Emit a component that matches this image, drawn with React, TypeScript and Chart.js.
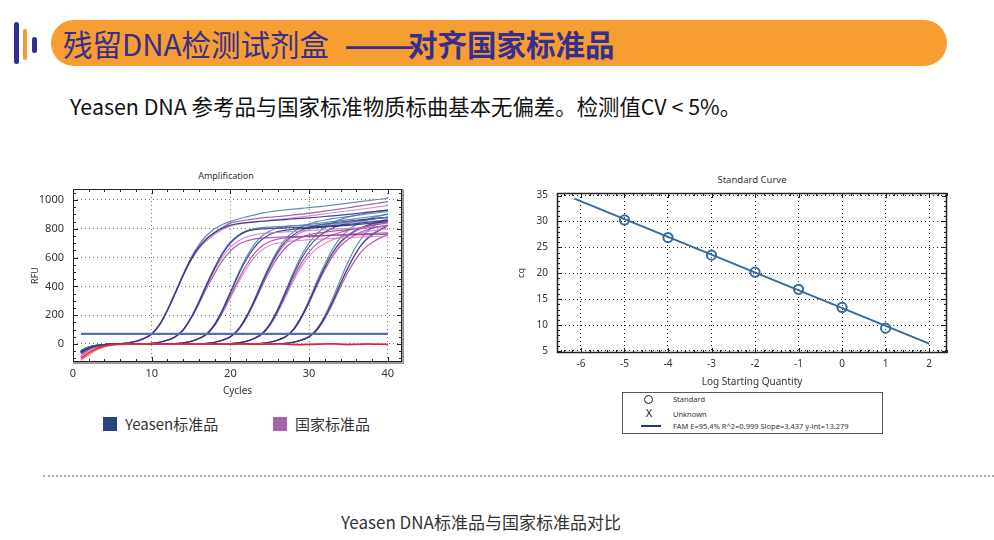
import React, { useEffect, useRef } from 'react';
import { Chart, registerables } from 'chart.js';

Chart.register(...registerables);

// ---------------- Amplification data (RFU per cycle) ----------------
const cycles = [1,2,3,4,5,6,7,8,9,10,11,12,13,14,15,16,17,18,19,20,21,22,23,24,25,26,27,28,29,30,31,32,33,34,35,36,37,38,39,40];
const ampXTicks = [0, 10, 20, 30, 40];
const ampYTicks = [0, 200, 400, 600, 800, 1000];
const thresholdRFU = 70;

// Yeasen standard (navy)
const yeasenD1a = [-55,-28,-12,-5,-1,2,7,17,37,68, 132,232,352,476,586,670,730,772,803,825, 836,843,848,852,856,860,864,868,872,876, 880,885,890,895,900,906,912,918,924,930];
const yeasenD2a = [-55,-28,-12,-5,-1,0,0,0,2,5, 12,27,50,98,182,290,412,525,625,700, 750,780,793,799,802,804,806,808,810,812, 815,818,822,826,831,836,842,848,854,860];
const yeasenD3a = [-55,-28,-12,-5,-1,0,0,0,0,0, 0,1,3,8,18,38,70,135,235,355, 478,585,668,725,760,780,790,796,800,804, 808,812,816,820,824,829,834,839,844,850];
const yeasenD4a = [-55,-28,-12,-5,-1,0,0,0,0,0, 0,0,0,0,0,2,5,12,27,50, 100,185,295,420,535,635,710,757,790,810, 823,832,840,847,853,859,865,870,875,880];
const yeasenD5a = [-55,-28,-12,-5,-1,0,0,0,0,0, 0,0,0,0,0,0,0,0,1,3, 8,18,38,70,135,235,355,480,590,675, 735,775,805,825,840,851,860,867,874,880];
const yeasenD6a = [-55,-28,-12,-5,-1,0,0,0,0,0, 0,0,0,0,0,0,0,0,0,0, 0,0,2,5,12,27,50,100,185,295, 420,535,635,710,757,792,816,834,848,860];
const yeasenD7a = [-55,-28,-12,-5,-1,0,0,0,0,0, 0,0,0,0,0,0,0,0,0,0, 0,0,0,0,0,2,5,12,27,50, 100,185,295,420,535,635,710,757,792,820];
// Yeasen standard (steel blue replicates)
const yeasenD1b = [-45,-22,-10,-4,0,3,8,18,38,70, 135,236,358,485,600,690,755,800,830,851, 868,882,895,908,918,925,931,936,941,947, 952,958,964,971,978,985,992,999,1005,1011];
const yeasenD2b = [-45,-22,-10,-4,-1,0,0,0,2,5, 12,28,52,100,186,296,420,535,635,708, 755,785,800,808,812,815,817,819,821,823, 826,830,835,841,847,853,859,866,873,880];
const yeasenD3b = [-45,-22,-10,-4,-1,0,0,0,0,0, 0,1,3,8,19,40,73,140,242,365, 490,600,688,750,785,805,815,821,826,831, 837,843,850,857,864,871,878,885,892,900];
const yeasenD4b = [-45,-22,-10,-4,-1,0,0,0,0,0, 0,0,0,0,0,2,5,12,28,52, 103,190,302,430,548,650,728,778,812,835, 850,861,870,878,885,892,899,906,913,920];
const yeasenD5b = [-45,-22,-10,-4,-1,0,0,0,0,0, 0,0,0,0,0,0,0,0,1,3, 8,19,40,73,140,243,368,497,612,702, 766,810,842,865,882,895,906,915,923,930];
const yeasenD6b = [-45,-22,-10,-4,-1,0,0,0,0,0, 0,0,0,0,0,0,0,0,0,0, 0,0,2,5,12,28,52,104,192,306, 436,555,660,740,792,830,857,876,890,902];
const yeasenD7b = [-45,-22,-10,-4,-1,0,0,0,0,0, 0,0,0,0,0,0,0,0,0,0, 0,0,0,0,0,2,5,13,29,54, 108,200,318,452,575,680,758,810,848,875];

// National standard (purple)
const nationalD1a = [-65,-35,-16,-6,-1,3,9,20,40,72, 138,240,360,482,592,676,735,775,810,839, 852,861,868,875,880,885,890,896,902,908, 915,922,930,938,946,955,963,971,980,989];
const nationalD2a = [-65,-35,-16,-6,-2,0,0,0,2,5, 12,26,48,95,175,278,390,490,580,645, 690,715,728,734,738,741,744,746,748,750, 752,754,755,756,757,758,759,760,760,761];
const nationalD3a = [-65,-35,-16,-6,-2,0,0,0,0,0, 0,1,3,8,18,37,68,130,225,335, 445,545,625,680,712,728,736,740,743,746, 749,752,755,758,761,763,765,767,769,771];
const nationalD4a = [-65,-35,-16,-6,-2,0,0,0,0,0, 0,0,0,0,0,2,5,12,26,48, 96,178,283,400,508,600,668,712,740,757, 768,776,783,789,795,800,805,810,815,820];
const nationalD5a = [-65,-35,-16,-6,-2,0,0,0,0,0, 0,0,0,0,0,0,0,0,1,3, 8,18,37,68,130,226,340,458,560,640, 695,732,758,776,790,802,813,823,832,840];
const nationalD6a = [-65,-35,-16,-6,-2,0,0,0,0,0, 0,0,0,0,0,0,0,0,0,0, 0,0,2,5,12,26,48,96,178,284, 404,515,610,682,728,762,786,803,816,826];
const nationalD7a = [-65,-35,-16,-6,-2,0,0,0,0,0, 0,0,0,0,0,0,0,0,0,0, 0,0,0,0,0,2,5,12,26,48, 95,176,280,398,505,595,662,705,735,757];
// National standard (light purple replicates)
const nationalD1b = [-85,-45,-20,-8,-2,3,8,19,39,71, 136,236,354,475,580,662,718,760,795,820, 832,840,846,852,858,864,870,876,883,890, 897,904,911,918,925,932,939,946,953,960];
const nationalD2b = [-85,-45,-20,-8,-2,0,0,1,3,6, 13,28,51,99,183,290,408,515,605,672, 715,742,758,766,771,775,778,781,784,787, 790,793,796,799,802,805,808,811,814,817];
const nationalD3b = [-85,-45,-20,-8,-2,0,0,0,0,0, 0,1,3,7,17,36,66,125,215,320, 425,520,598,652,685,700,710,716,720,724, 727,730,733,736,739,741,743,745,748,752];
const nationalD4b = [-85,-45,-20,-8,-2,0,0,0,0,0, 0,0,0,0,0,2,5,12,27,50, 99,184,292,414,526,622,695,742,775,796, 810,820,828,835,841,846,850,854,857,860];
const nationalD5b = [-85,-45,-20,-8,-2,0,0,0,0,0, 0,0,0,0,0,0,0,0,1,3, 8,17,36,66,126,218,326,438,535,610, 662,698,724,742,756,767,777,786,794,801];
const nationalD6b = [-85,-45,-20,-8,-2,0,0,0,0,0, 0,0,0,0,0,0,0,0,0,0, 0,0,2,5,12,27,50,99,183,292, 415,530,628,702,750,784,808,825,838,848];
const nationalD7b = [-85,-45,-20,-8,-2,0,0,0,0,0, 0,0,0,0,0,0,0,0,0,0, 0,0,0,0,0,2,5,12,27,51, 101,187,298,424,540,640,716,765,800,826];

// No-template controls (red)
const ntcA = [-100,-62,-32,-14,-5,-2,0,1,0,-1, 0,1,2,1,0,-1,0,1,0,-1, 1,0,-2,-1,0,1,-1,-3,-5,-4, -2,0,1,-1,-3,-2,0,-1,-2,-3];
const ntcB = [-112,-75,-40,-20,-9,-4,-1,0,1,0, -1,0,1,0,-1,0,1,2,1,0, -1,-2,0,1,2,0,-2,-4,-3,-1, 1,2,0,-2,-4,-3,-1,0,-2,-1];

const yeasenNavyRuns = [yeasenD1a, yeasenD2a, yeasenD3a, yeasenD4a, yeasenD5a, yeasenD6a, yeasenD7a];
const yeasenSteelRuns = [yeasenD1b, yeasenD2b, yeasenD3b, yeasenD4b, yeasenD5b, yeasenD6b, yeasenD7b];
const nationalPurpleRuns = [nationalD1a, nationalD2a, nationalD3a, nationalD4a, nationalD5a, nationalD6a, nationalD7a];
const nationalPinkRuns = [nationalD1b, nationalD2b, nationalD3b, nationalD4b, nationalD5b, nationalD6b, nationalD7b];
const ntcRuns = [ntcA, ntcB];

// ---------------- Standard curve data ----------------
const stdLogQty = [-5, -4, -3, -2, -1, 0, 1];
const stdCq = [30.3, 26.9, 23.5, 20.2, 16.9, 13.4, 9.4];
const fitSlope = -3.437;
const fitIntercept = 13.279;
const fitRangeX = [-6.15, 2.0];
const stdXTicks = [-6, -5, -4, -3, -2, -1, 0, 1, 2];
const stdYTicks = [5, 10, 15, 20, 25, 30, 35];

// ---------------- Styles ----------------
const CJK = '"Noto Sans CJK SC", "Noto Sans", sans-serif';
const SANS = '"Noto Sans", "DejaVu Sans", sans-serif';
const C_NAVY = 'rgba(38,48,128,0.88)';
const C_STEEL = 'rgba(72,122,165,0.85)';
const C_PURPLE = 'rgba(152,58,152,0.82)';
const C_PINK = 'rgba(200,122,200,0.82)';
const C_RED = '#e8202c';
const C_RED2 = 'rgba(242,110,120,0.85)';
const C_THRESH = '#5670a3';
const C_FIT = '#3a6a99';

const framePlugin = {
  id: 'frameTicks',
  afterDatasetsDraw(chart: any, _args: any, o: any) {
    const { ctx, chartArea: a, scales } = chart;
    const xs = scales.x;
    const ys = scales.y;
    ctx.save();
    ctx.strokeStyle = o.color;
    ctx.lineWidth = 1;
    ctx.setLineDash([]);
    ctx.beginPath();
    const rx = Math.round(o.xMajor / o.xMinor);
    for (let k = Math.ceil(o.xFrom / o.xMinor - 1e-9); k * o.xMinor <= o.xTo + 1e-9; k++) {
      const px = Math.round(xs.getPixelForValue(k * o.xMinor)) + 0.5;
      const len = k % rx === 0 ? o.majorLen : o.minorLen;
      ctx.moveTo(px, a.bottom);
      ctx.lineTo(px, a.bottom - len);
      ctx.moveTo(px, a.top);
      ctx.lineTo(px, a.top + len);
    }
    const ry = Math.round(o.yMajor / o.yMinor);
    for (let k = Math.ceil(o.yFrom / o.yMinor - 1e-9); k * o.yMinor <= o.yTo + 1e-9; k++) {
      const py = Math.round(ys.getPixelForValue(k * o.yMinor)) + 0.5;
      const len = k % ry === 0 ? o.majorLen : o.minorLen;
      ctx.moveTo(a.left, py);
      ctx.lineTo(a.left + len, py);
      ctx.moveTo(a.right, py);
      ctx.lineTo(a.right - len, py);
    }
    ctx.stroke();
    ctx.lineWidth = o.frameWidth;
    ctx.strokeRect(a.left + 0.5, a.top + 0.5, a.right - a.left - 1, a.bottom - a.top - 1);
    if (o.shadow) {
      ctx.strokeStyle = o.shadow;
      ctx.lineWidth = 2;
      ctx.beginPath();
      ctx.moveTo(a.right + 1, a.top);
      ctx.lineTo(a.right + 1, a.bottom + 1);
      ctx.lineTo(a.left, a.bottom + 1);
      ctx.stroke();
    }
    ctx.restore();
  },
};

function AmpChart() {
  const ref = useRef<HTMLCanvasElement>(null);
  useEffect(() => {
    const toPts = (vals: number[]) => vals.map((v, i) => ({ x: cycles[i], y: v }));
    const datasets: any[] = [];
    datasets.push({
      data: [{ x: cycles[0], y: thresholdRFU }, { x: cycles[cycles.length - 1], y: thresholdRFU }],
      borderColor: C_THRESH, borderWidth: 2.2, cubicInterpolationMode: 'default', tension: 0,
    });
    ntcRuns.forEach((r, i) => datasets.push({ data: toPts(r), borderColor: i === 0 ? C_RED : C_RED2, borderWidth: 1.5 }));
    for (let d = 0; d < yeasenNavyRuns.length; d++) {
      datasets.push({ data: toPts(yeasenNavyRuns[d]), borderColor: C_NAVY });
      datasets.push({ data: toPts(nationalPurpleRuns[d]), borderColor: C_PURPLE });
      datasets.push({ data: toPts(yeasenSteelRuns[d]), borderColor: C_STEEL });
      datasets.push({ data: toPts(nationalPinkRuns[d]), borderColor: C_PINK });
    }
    const tickFont = { family: SANS, size: 11 };
    const chart = new Chart(ref.current!, {
      type: 'line',
      data: { datasets },
      options: {
        responsive: false,
        animation: false,
        devicePixelRatio: 1,
        events: [],
        layout: { padding: { top: 19, right: 8, left: 0, bottom: 0 } },
        elements: { point: { radius: 0 }, line: { borderWidth: 1.2, cubicInterpolationMode: 'monotone' } },
        plugins: {
          legend: { display: false },
          tooltip: { enabled: false },
          frameTicks: { color: '#222', xFrom: 0, xTo: 40, xMinor: 2, xMajor: 10, yFrom: -100, yTo: 1050, yMinor: 50, yMajor: 200, majorLen: 5, minorLen: 3, frameWidth: 1, shadow: '#9a9a9a' },
        } as any,
        scales: {
          x: {
            type: 'linear', min: 0, max: 41.8,
            afterBuildTicks: (s: any) => { s.ticks = ampXTicks.map((v) => ({ value: v })); },
            afterFit: (s: any) => { s.height = 40; },
            grid: { color: '#777', lineWidth: 1, drawTicks: false },
            border: { display: false, dash: [1, 3] },
            ticks: { padding: 5, font: tickFont, color: '#333', maxRotation: 0, callback: (v: any) => String(v) },
            title: { display: true, text: 'Cycles', font: { family: SANS, size: 10 }, color: '#333', padding: { top: 0, bottom: 5 } },
          },
          y: {
            type: 'linear', min: -125, max: 1076,
            afterBuildTicks: (s: any) => { s.ticks = ampYTicks.map((v) => ({ value: v })); },
            afterFit: (s: any) => { s.width = 53; },
            grid: { color: '#777', lineWidth: 1, drawTicks: false },
            border: { display: false, dash: [1, 3] },
            ticks: { padding: 9, font: tickFont, color: '#333', callback: (v: any) => String(v) },
            title: { display: true, text: 'RFU', font: { family: SANS, size: 9 }, color: '#333', padding: { top: 9.6, bottom: 0 } },
          },
        },
      } as any,
      plugins: [framePlugin as any],
    });
    return () => chart.destroy();
  }, []);
  return <canvas ref={ref} width={390} height={232} style={{ position: 'absolute', left: 20, top: 170, width: 390, height: 232 }} />;
}

function StdChart() {
  const ref = useRef<HTMLCanvasElement>(null);
  useEffect(() => {
    const tickFont = { family: SANS, size: 10 };
    const chart = new Chart(ref.current!, {
      type: 'scatter',
      data: {
        datasets: [
          {
            data: stdLogQty.map((x, i) => ({ x, y: stdCq[i] })),
            pointStyle: 'circle', pointRadius: 4.6, pointBorderWidth: 2,
            pointBorderColor: C_FIT, pointBackgroundColor: 'rgba(0,0,0,0)', showLine: false,
          },
          {
            data: fitRangeX.map((x) => ({ x, y: fitIntercept + fitSlope * x })),
            showLine: true, borderColor: C_FIT, borderWidth: 2, pointRadius: 0,
          },
        ],
      },
      options: {
        responsive: false,
        animation: false,
        devicePixelRatio: 1,
        events: [],
        layout: { padding: { top: 15, right: 13, left: 0, bottom: 0 } },
        plugins: {
          legend: { display: false },
          tooltip: { enabled: false },
          frameTicks: { color: '#222', xFrom: -6.4, xTo: 2.4, xMinor: 0.2, xMajor: 1, yFrom: 5, yTo: 35, yMinor: 1, yMajor: 5, majorLen: 5, minorLen: 3, frameWidth: 1.5, shadow: null },
        } as any,
        scales: {
          x: {
            type: 'linear', min: -6.55, max: 2.41,
            afterBuildTicks: (s: any) => { s.ticks = stdXTicks.map((v) => ({ value: v })); },
            afterFit: (s: any) => { s.height = 36; },
            grid: { color: '#222', lineWidth: 1, drawTicks: false },
            border: { display: false, dash: [1, 3] },
            ticks: { padding: 5, font: tickFont, color: '#333', maxRotation: 0, callback: (v: any) => String(v) },
            title: { display: true, text: 'Log Starting Quantity', font: { family: SANS, size: 10 }, color: '#333', padding: { top: 0, bottom: 1 } },
          },
          y: {
            type: 'linear', min: 4.6, max: 35.5,
            afterBuildTicks: (s: any) => { s.ticks = stdYTicks.map((v) => ({ value: v })); },
            afterFit: (s: any) => { s.width = 57; },
            grid: { color: '#222', lineWidth: 1, drawTicks: false },
            border: { display: false, dash: [1, 3] },
            ticks: { padding: 9, font: tickFont, color: '#333', callback: (v: any) => String(v) },
            title: { display: true, text: 'cq', font: { family: SANS, size: 9 }, color: '#333', padding: { top: 15.6, bottom: 0 } },
          },
        },
      } as any,
      plugins: [framePlugin as any],
    });
    return () => chart.destroy();
  }, []);
  return <canvas ref={ref} width={460} height={211} style={{ position: 'absolute', left: 500, top: 178, width: 460, height: 211 }} />;
}

const abs = (s: any) => ({ position: 'absolute' as const, ...s });

export default function App() {
  return (
    <div style={{ position: 'absolute', left: 0, top: 0, width: 994, height: 540, background: '#fff', overflow: 'hidden', fontFamily: CJK }}>
      {/* header decorations */}
      <div style={abs({ left: 14, top: 22, width: 5, height: 42, background: '#2f2e90', borderRadius: 3 })} />
      <div style={abs({ left: 22.5, top: 29, width: 4, height: 31, background: '#f39c2c', borderRadius: 2 })} />
      <div style={abs({ left: 31.5, top: 37, width: 5, height: 16, background: '#2f2e90', borderRadius: 3 })} />
      <div style={abs({ left: 51, top: 20, width: 896, height: 46, background: '#f79d31', borderRadius: 23 })} />
      <div style={abs({ left: 63, top: 20, height: 46, lineHeight: '46px', fontSize: 29.5, fontWeight: 400, color: '#35308f', whiteSpace: 'nowrap' })}>
        残留DNA检测试剂盒
        <span style={{ display: 'inline-block', width: 64, marginLeft: 15, fontWeight: 700 }}>
          <span style={{ display: 'inline-block', transform: 'scaleX(1.42)', transformOrigin: 'left center' }}>——</span>
        </span>
        <span style={{ fontWeight: 700 }}>对齐国家标准品</span>
      </div>

      {/* subtitle */}
      <div style={abs({ left: 70, top: 92, height: 28, lineHeight: '28px', fontSize: 21.4, color: '#111', whiteSpace: 'nowrap' })}>
        Yeasen DNA 参考品与国家标准物质标曲基本无偏差。检测值CV &lt; 5%。
      </div>

      {/* chart titles */}
      <div style={abs({ left: 126, width: 200, top: 170, textAlign: 'center', fontFamily: SANS, fontSize: 9, lineHeight: '12px', color: '#333' })}>Amplification</div>
      <div style={abs({ left: 652, width: 200, top: 174, textAlign: 'center', fontFamily: SANS, fontSize: 9.5, lineHeight: '12px', color: '#333' })}>Standard Curve</div>

      <AmpChart />
      <StdChart />

      {/* amplification legend */}
      <div style={abs({ left: 103, top: 417, width: 14, height: 14, background: '#27457e' })} />
      <div style={abs({ left: 125, top: 414, lineHeight: '20px', fontSize: 15, color: '#333', whiteSpace: 'nowrap' })}>Yeasen标准品</div>
      <div style={abs({ left: 273, top: 417, width: 14, height: 14, background: '#a766a7' })} />
      <div style={abs({ left: 295, top: 414, lineHeight: '20px', fontSize: 15, color: '#333', whiteSpace: 'nowrap' })}>国家标准品</div>

      {/* standard curve legend */}
      <div style={abs({ left: 622, top: 392, width: 259, height: 40, border: '1px solid #555', background: '#fff' })} />
      <div style={abs({ left: 644, top: 394.5, width: 7, height: 7, border: '1.5px solid #222', borderRadius: '50%' })} />
      <div style={abs({ left: 673, top: 393, fontFamily: SANS, fontSize: 7.5, lineHeight: '12px', color: '#333' })}>Standard</div>
      <div style={abs({ left: 643, top: 406, width: 12, textAlign: 'center', fontFamily: SANS, fontSize: 11, lineHeight: '14px', color: '#222' })}>X</div>
      <div style={abs({ left: 673, top: 408, fontFamily: SANS, fontSize: 7.5, lineHeight: '12px', color: '#333' })}>Unknown</div>
      <div style={abs({ left: 641, top: 425, width: 20, height: 2, background: '#1f3a78' })} />
      <div style={abs({ left: 673, top: 420, fontFamily: SANS, fontSize: 7.5, lineHeight: '12px', color: '#333', whiteSpace: 'nowrap' })}>FAM E=95.4% R^2=0.999 Slope=3.437 y-int=13.279</div>

      {/* divider and caption */}
      <div style={abs({ left: 43, top: 475, width: 951, height: 0, borderTop: '2px dotted #a8a8a8' })} />
      <div style={abs({ left: 231, width: 500, top: 511, textAlign: 'center', fontSize: 17, lineHeight: '22px', color: '#333', whiteSpace: 'nowrap' })}>
        Yeasen DNA标准品与国家标准品对比
      </div>
    </div>
  );
}
